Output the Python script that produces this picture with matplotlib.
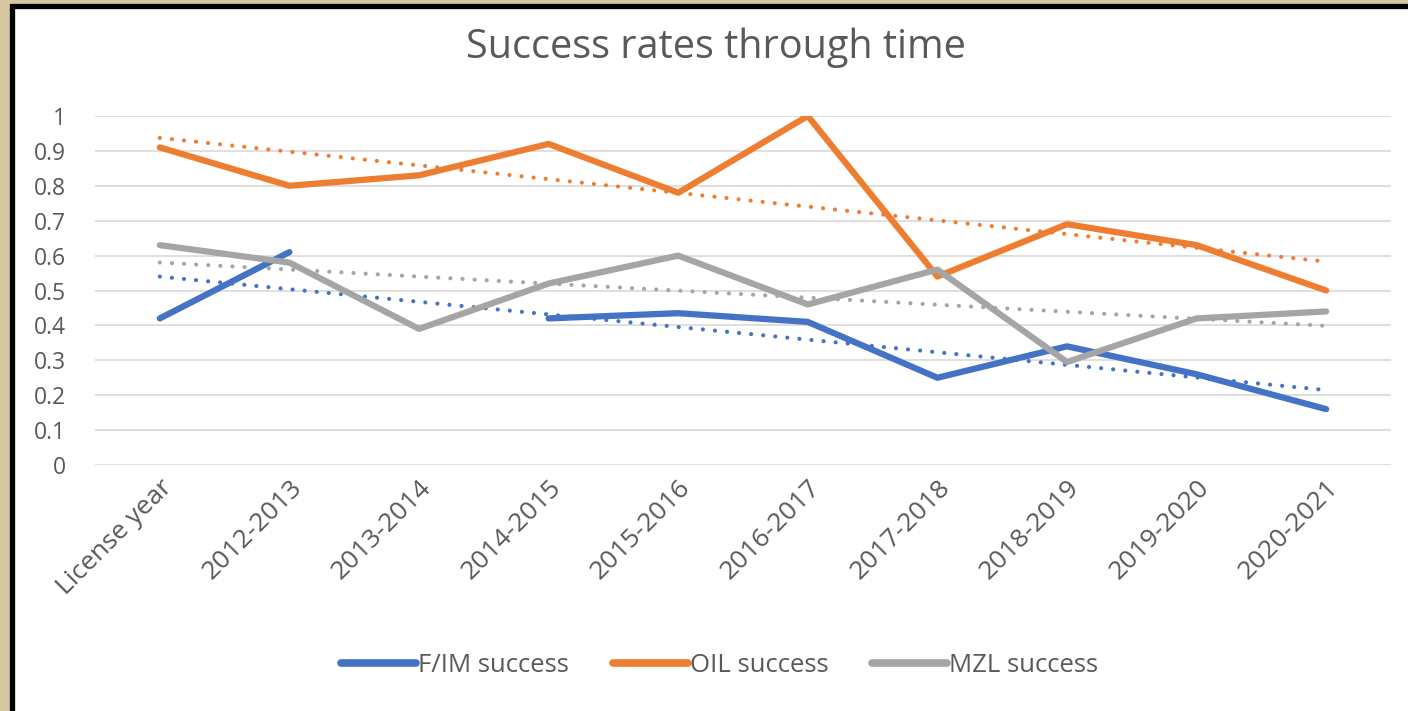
import numpy as np
import matplotlib
matplotlib.use("Agg")
import matplotlib.pyplot as plt
from matplotlib.patches import Rectangle

categories = ["License year", "2012-2013", "2013-2014", "2014-2015", "2015-2016",
              "2016-2017", "2017-2018", "2018-2019", "2019-2020", "2020-2021"]
fim_success = [0.42, 0.61, np.nan, 0.42, 0.435, 0.41, 0.25, 0.34, 0.26, 0.16]
oil_success = [0.91, 0.80, 0.83, 0.92, 0.78, 1.00, 0.54, 0.69, 0.63, 0.50]
mzl_success = [0.63, 0.58, 0.39, 0.52, 0.60, 0.46, 0.56, 0.295, 0.42, 0.44]
y_ticks = [0, 0.1, 0.2, 0.3, 0.4, 0.5, 0.6, 0.7, 0.8, 0.9, 1]
y_tick_labels = ["0", "0.1", "0.2", "0.3", "0.4", "0.5", "0.6", "0.7", "0.8", "0.9", "1"]

series = [("F/IM success", fim_success, "#4472C4"),
          ("OIL success", oil_success, "#ED7D31"),
          ("MZL success", mzl_success, "#A5A5A5")]

plt.rcParams['font.family'] = ['Open Sans', 'DejaVu Sans']
text_color = "#595959"

W, H = 1408, 711
fig = plt.figure(figsize=(W / 100, H / 100), dpi=100, facecolor="#d5c8a0")
# white chart panel with black frame
fig.patches.append(Rectangle((11.5 / W, -0.05), 1.1, (H - 5.5) / H + 0.05,
                             transform=fig.transFigure, facecolor="white",
                             edgecolor="black", linewidth=3.8, zorder=-5))

ax = fig.add_axes([95 / W, 1 - 465 / H, (1391 - 95) / W, (465 - 116) / H])
ax.set_facecolor("none")
x = np.arange(len(categories))

for name, vals, color in series:
    ax.plot(x, vals, color=color, lw=4.5, solid_capstyle="round",
            solid_joinstyle="round", label=name, zorder=3)

for name, vals, color in series:
    v = np.array(vals, dtype=float)
    m = ~np.isnan(v)
    coef = np.polyfit(x[m] + 1, v[m], 1)
    ax.plot(x, np.polyval(coef, x + 1), color=color, lw=3.0,
            linestyle=(0, (0.01, 2.9)), dash_capstyle="round", zorder=2)

ax.set_xlim(-0.5, len(categories) - 0.5)
ax.set_ylim(0, 1)
ax.set_yticks(y_ticks)
ax.set_yticklabels(y_tick_labels)
ax.set_xticks(x)
ax.set_xticklabels(categories, rotation=45, ha="right", va="top",
                   rotation_mode="anchor")
ax.tick_params(axis="both", length=0, labelcolor=text_color)
ax.tick_params(axis="y", pad=21, labelsize=16.5)
ax.tick_params(axis="x", pad=7, labelsize=19)
ax.grid(axis="y", color="#D9D9D9", lw=1.2)
ax.set_axisbelow(True)
for s in ax.spines.values():
    s.set_visible(False)

fig.text(716 / W, 1 - 48 / H, "Success rates through time", ha="center",
         va="center", fontsize=28.5, color=text_color)

handles, labels = ax.get_legend_handles_labels()
leg = fig.legend(handles, labels, loc="center", bbox_to_anchor=(720 / W, 1 - 665 / H),
                 ncol=3, frameon=False, fontsize=18.5, handlelength=2.9,
                 handletextpad=0.1, columnspacing=1.7)
for t in leg.get_texts():
    t.set_color(text_color)
for h in leg.get_lines():
    h.set_linewidth(5.5)

fig.savefig("out.png", dpi=100, facecolor=fig.get_facecolor())
